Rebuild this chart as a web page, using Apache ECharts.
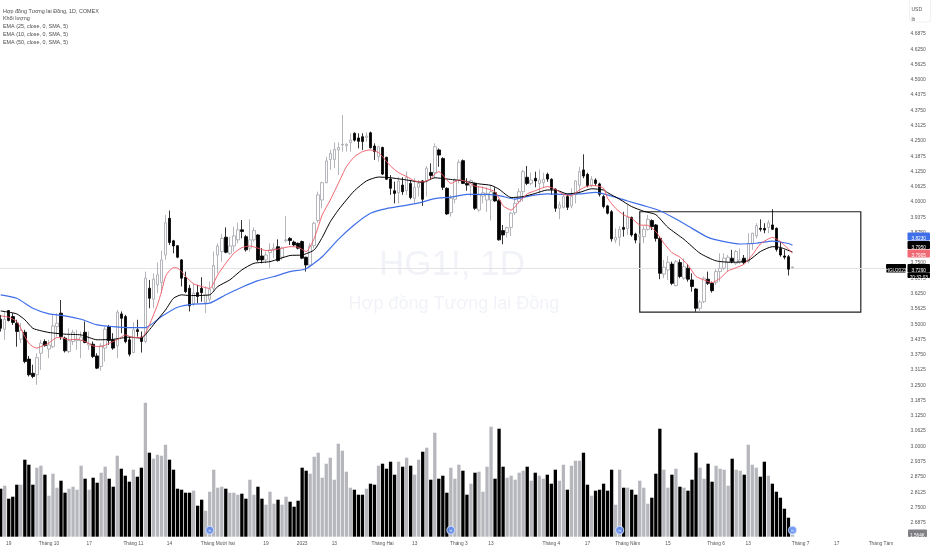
<!DOCTYPE html>
<html><head><meta charset="utf-8">
<style>html,body{margin:0;padding:0;background:#fff}#c{width:932px;height:550px}</style>
<script src="https://cdn.jsdelivr.net/npm/echarts@6/dist/echarts.min.js"></script>
</head><body><div id="c"></div>
<script>
// u = closed up (hollow), d = closed down (black)
const direction = "dudddudddu"+"uduuudduuu"+"ududduuddu"+"dddudduduu"+"uuddddddud"+"duuuuuduuu"+"dduudduuud"+"uuddddduuu"+"uuuuuuuudd"+"dudduddddu"+"duduududud"+"dduuuddudu"+"uuuddduuuu"+"ududuudddu"+"uduuuddudd"+"ddduududdu"+"uuddduudud"+"uddduudduu"+"uuduuduuud"+"dudddddu";
const highs = [3.538,3.552,3.558,3.545,3.518,3.504,3.477,3.370,3.334,3.381,
3.436,3.438,3.436,3.538,3.545,3.599,3.449,3.483,3.477,3.477,
3.470,3.511,3.470,3.429,3.381,3.422,3.490,3.497,3.463,3.558,
3.552,3.538,3.449,3.507,3.518,3.470,3.715,3.681,3.708,3.752,
3.801,3.947,3.965,3.845,3.824,3.766,3.715,3.661,3.667,3.661,
3.692,3.654,3.674,3.797,3.831,3.868,3.896,3.858,3.899,3.915,
3.926,3.865,3.929,3.896,3.868,3.811,3.797,3.831,3.831,3.847,
3.817,3.943,3.856,3.842,3.834,3.842,3.776,3.831,3.919,4.042,
4.083,4.185,4.213,4.243,4.243,4.356,4.240,4.281,4.285,4.281,
4.281,4.285,4.288,4.240,4.230,4.226,4.185,4.110,4.083,4.103,
4.101,4.124,4.090,4.097,4.090,4.090,4.147,4.158,4.240,4.219,
4.183,4.060,4.029,4.097,4.174,4.174,4.097,4.093,4.079,4.063,
4.063,4.060,4.069,4.060,4.011,3.906,3.899,3.960,4.015,4.056,
4.131,4.147,4.120,4.124,4.133,4.120,4.120,4.097,4.056,4.001,
4.029,4.029,4.056,4.090,4.144,4.195,4.120,4.106,4.097,4.079,
4.029,3.988,3.967,3.892,3.902,3.960,3.988,3.940,3.874,3.872,
3.902,3.947,3.929,3.910,3.858,3.763,3.779,3.756,3.763,3.765,
3.770,3.746,3.708,3.647,3.599,3.695,3.715,3.674,3.725,3.790,
3.790,3.783,3.804,3.804,3.810,3.783,3.872,3.874,3.913,3.929,
3.913,3.926,3.970,3.896,3.838,3.804,3.783,3.735];
const bodyHighs = [3.520,3.520,3.556,3.531,3.504,3.474,3.467,3.357,3.299,3.363,
3.422,3.429,3.415,3.493,3.504,3.545,3.443,3.432,3.467,3.438,
3.447,3.467,3.422,3.418,3.370,3.413,3.479,3.490,3.436,3.549,
3.542,3.531,3.436,3.477,3.477,3.447,3.688,3.647,3.684,3.702,
3.763,3.915,3.933,3.841,3.821,3.763,3.692,3.647,3.627,3.629,
3.647,3.620,3.643,3.740,3.820,3.851,3.856,3.820,3.861,3.886,
3.886,3.858,3.845,3.883,3.865,3.779,3.783,3.804,3.811,3.817,
3.811,3.845,3.851,3.836,3.831,3.838,3.774,3.820,3.913,4.029,
4.079,4.168,4.199,4.215,4.223,4.236,4.236,4.253,4.281,4.262,
4.267,4.270,4.283,4.229,4.226,4.223,4.183,4.094,4.046,4.086,
4.069,4.101,4.076,4.060,4.076,4.086,4.138,4.121,4.226,4.213,
4.178,4.056,4.015,4.090,4.162,4.169,4.076,4.087,4.076,4.029,
4.038,4.035,4.042,4.038,4.005,3.883,3.895,3.954,3.994,4.042,
4.124,4.101,4.090,4.097,4.090,4.093,4.113,4.093,4.052,3.988,
4.022,4.022,4.024,4.086,4.124,4.131,4.113,4.093,4.090,4.074,
4.022,3.984,3.960,3.855,3.888,3.896,3.937,3.937,3.869,3.865,
3.888,3.929,3.924,3.906,3.851,3.733,3.753,3.746,3.756,3.752,
3.735,3.729,3.681,3.644,3.590,3.688,3.684,3.667,3.715,3.729,
3.770,3.774,3.770,3.797,3.763,3.770,3.831,3.872,3.903,3.892,
3.892,3.915,3.906,3.892,3.810,3.779,3.776,3.734];
const bodyLows = [3.483,3.479,3.515,3.507,3.470,3.438,3.347,3.293,3.286,3.293,
3.381,3.413,3.398,3.408,3.490,3.449,3.391,3.388,3.429,3.433,
3.433,3.425,3.415,3.368,3.320,3.327,3.402,3.433,3.402,3.411,
3.524,3.429,3.377,3.384,3.470,3.429,3.429,3.606,3.602,3.661,
3.670,3.783,3.834,3.820,3.774,3.688,3.633,3.575,3.583,3.613,
3.629,3.588,3.602,3.647,3.783,3.797,3.794,3.790,3.820,3.845,
3.879,3.804,3.811,3.845,3.763,3.763,3.763,3.793,3.804,3.760,
3.774,3.842,3.842,3.824,3.811,3.770,3.742,3.742,3.821,3.924,
4.008,4.079,4.174,4.174,4.213,4.233,4.230,4.243,4.253,4.248,
4.247,4.264,4.222,4.206,4.185,4.114,4.093,4.056,4.035,4.038,
4.042,4.046,4.018,4.015,4.060,4.011,4.083,4.108,4.120,4.192,
4.060,3.951,3.956,4.011,4.090,4.076,4.069,4.065,3.974,3.967,
4.024,4.008,4.008,4.004,3.845,3.865,3.875,3.896,3.956,4.001,
4.042,4.076,4.076,4.086,4.076,4.079,4.094,4.052,3.974,3.974,
3.978,3.978,3.984,4.029,4.069,4.106,4.067,4.069,4.076,4.031,
3.981,3.954,3.849,3.844,3.855,3.888,3.892,3.865,3.844,3.858,
3.858,3.888,3.899,3.851,3.708,3.705,3.722,3.667,3.658,3.695,
3.688,3.684,3.654,3.565,3.565,3.592,3.667,3.637,3.670,3.715,
3.729,3.752,3.756,3.749,3.753,3.752,3.756,3.828,3.861,3.888,
3.885,3.896,3.888,3.806,3.783,3.774,3.725,3.731];
const lows = [3.470,3.436,3.511,3.497,3.408,3.422,3.340,3.286,3.279,3.252,
3.313,3.408,3.361,3.402,3.449,3.436,3.384,3.381,3.415,3.395,
3.361,3.422,3.395,3.361,3.316,3.310,3.347,3.415,3.395,3.361,
3.463,3.422,3.368,3.381,3.449,3.384,3.422,3.565,3.565,3.627,
3.627,3.763,3.824,3.790,3.770,3.654,3.627,3.552,3.575,3.586,
3.592,3.545,3.592,3.637,3.708,3.756,3.790,3.783,3.797,3.831,
3.851,3.797,3.797,3.838,3.756,3.749,3.749,3.729,3.770,3.756,
3.763,3.834,3.824,3.820,3.806,3.766,3.715,3.736,3.810,3.915,
3.974,4.076,4.131,4.138,4.110,4.206,4.206,4.206,4.247,4.219,
4.213,4.247,4.219,4.172,4.165,4.110,4.090,4.029,3.994,3.994,
4.029,4.029,4.011,3.994,4.022,3.984,4.022,4.090,4.097,4.144,
4.049,3.947,3.940,3.994,4.076,4.073,4.046,4.022,3.967,3.960,
3.994,3.960,3.924,4.001,3.842,3.827,3.855,3.861,3.947,3.994,
4.001,4.069,4.069,4.060,4.035,4.060,4.083,4.029,3.960,3.930,
3.974,3.967,3.974,3.994,4.035,4.097,4.060,4.060,4.065,4.022,
3.974,3.949,3.838,3.831,3.820,3.858,3.865,3.858,3.831,3.831,
3.831,3.883,3.885,3.838,3.684,3.688,3.681,3.660,3.654,3.688,
3.681,3.674,3.633,3.551,3.551,3.586,3.660,3.629,3.660,3.674,
3.722,3.715,3.749,3.742,3.746,3.746,3.749,3.804,3.851,3.879,
3.872,3.872,3.885,3.797,3.776,3.765,3.699,3.729];
const volumes = [48,51,38,40,52,52,77,72,52,69,71,62,41,63,49,56,44,48,50,47,71,58,47,59,54,64,70,58,50,81,68,61,55,67,60,69,134,84,78,82,81,92,77,67,48,47,44,44,46,31,37,26,45,67,49,50,48,44,44,42,43,38,57,42,50,38,32,45,33,37,32,40,35,30,36,69,66,63,80,84,59,73,79,57,93,86,65,49,47,42,42,48,53,52,71,73,68,75,62,75,70,79,71,62,77,85,89,57,104,58,61,44,69,58,72,66,42,53,64,65,45,70,110,58,108,70,59,61,57,64,66,70,56,64,61,58,62,53,67,56,72,47,71,76,76,84,52,41,46,47,53,46,67,32,67,49,49,47,42,56,49,33,39,63,108,67,49,62,68,50,49,46,57,84,69,58,73,55,71,68,67,51,78,67,66,62,92,72,69,60,75,61,53,45,39,28,19,1.6];
// EMA readings as [bar index, price]
const ema50 = [[0,3.620],[4,3.606],[8,3.565],[12,3.542],[16,3.534],[20,3.520],[24,3.497],[28,3.490],[32,3.486],[36,3.486],[40,3.531],[44,3.569],[48,3.582],[52,3.586],[56,3.620],[60,3.651],[64,3.678],[68,3.695],[72,3.715],[76,3.727],[80,3.776],[84,3.847],[88,3.907],[92,3.954],[96,3.973],[100,3.984],[104,3.996],[108,4.014],[112,4.020],[116,4.031],[120,4.031],[124,4.026],[128,4.012],[132,4.026],[136,4.033],[140,4.031],[144,4.033],[148,4.039],[152,4.024],[156,4.004],[160,3.985],[164,3.964],[168,3.930],[172,3.892],[176,3.855],[180,3.838],[184,3.828],[188,3.831],[192,3.840],[196,3.830],[197,3.823]];
const ema25 = [[0,3.554],[2,3.549],[4,3.542],[6,3.518],[8,3.483],[10,3.473],[12,3.466],[16,3.459],[20,3.456],[24,3.436],[28,3.438],[32,3.447],[35,3.443],[37,3.477],[39,3.518],[41,3.558],[43,3.606],[45,3.620],[47,3.617],[52,3.620],[54,3.654],[57,3.681],[60,3.722],[63,3.749],[67,3.756],[72,3.781],[75,3.783],[78,3.804],[80,3.855],[82,3.919],[84,3.967],[86,4.008],[88,4.046],[91,4.086],[94,4.102],[97,4.099],[101,4.090],[105,4.080],[108,4.099],[111,4.094],[115,4.086],[119,4.074],[122,4.068],[124,4.052],[127,4.018],[130,4.022],[133,4.035],[136,4.049],[138,4.049],[141,4.033],[144,4.039],[147,4.054],[150,4.049],[151,4.038],[154,4.011],[157,3.981],[160,3.962],[163,3.948],[166,3.896],[170,3.847],[174,3.790],[178,3.759],[182,3.753],[186,3.760],[189,3.797],[192,3.817],[194,3.814],[197,3.795]];
const ema10 = [[0,3.534],[2,3.528],[4,3.511],[5,3.483],[6,3.449],[7,3.422],[8,3.408],[9,3.402],[10,3.408],[12,3.422],[13,3.436],[14,3.445],[15,3.445],[17,3.436],[19,3.438],[21,3.429],[23,3.411],[25,3.408],[27,3.422],[29,3.436],[31,3.456],[33,3.445],[35,3.445],[36,3.463],[37,3.497],[39,3.579],[40,3.633],[41,3.695],[42,3.719],[43,3.731],[44,3.729],[45,3.715],[46,3.695],[48,3.665],[50,3.654],[52,3.646],[54,3.702],[56,3.749],[58,3.790],[60,3.813],[62,3.820],[64,3.811],[66,3.801],[68,3.804],[70,3.811],[72,3.817],[74,3.815],[76,3.797],[78,3.851],[80,3.947],[82,4.008],[84,4.076],[86,4.144],[88,4.185],[90,4.206],[92,4.213],[94,4.202],[95,4.185],[97,4.147],[99,4.120],[101,4.104],[103,4.086],[105,4.082],[107,4.094],[108,4.114],[109,4.124],[111,4.090],[112,4.076],[114,4.090],[116,4.083],[118,4.065],[120,4.059],[122,4.049],[123,4.042],[124,4.015],[125,3.984],[127,3.967],[129,4.001],[131,4.033],[133,4.046],[136,4.063],[138,4.052],[140,4.031],[142,4.026],[144,4.049],[146,4.065],[148,4.067],[150,4.056],[151,4.015],[153,3.974],[155,3.947],[157,3.933],[159,3.906],[161,3.904],[163,3.879],[165,3.831],[167,3.793],[169,3.774],[171,3.742],[173,3.695],[175,3.681],[177,3.670],[179,3.688],[181,3.718],[183,3.731],[185,3.746],[187,3.783],[189,3.828],[191,3.849],[192,3.855],[194,3.838],[197,3.791]];
const xTicks = [[2,"19"],[12,"Tháng 10"],[22,"17"],[33,"Tháng 11"],[42,"14"],[54,"Tháng Mười hai"],[66,"19"],[75,"2023"],[83,"13"],[95,"Tháng Hai"],[103,"13"],[114,"Tháng 3"],[122,"13"],[137,"Tháng 4"],[146,"17"],[156,"Tháng Năm"],[166,"15"],[178,"Tháng 6"],[186,"13"],[199,"Tháng 7"],[208,"17"],[219,"Tháng Tám"]];
const barSlots = 225;
const legendLines = ["Hợp đồng Tương lai Đồng, 1D, COMEX","Khối lượng","EMA (25, close, 0, SMA, 5)","EMA (10, close, 0, SMA, 5)","EMA (50, close, 0, SMA, 5)"];
const lastClose = 3.729;
const boxRange = {fromBar:159,toBar:214,top:3.960,bottom:3.549};
const eventMarks = [52,112,154,197];

const categories = Array.from({length:barSlots},()=> "");
xTicks.forEach(([i,t])=>categories[i]=t);
const UP="#b6b7bc", DOWN="#000000";
const candleData = highs.map((h,i)=> direction[i]==="u"
  ? [bodyLows[i],bodyHighs[i],lows[i],h]
  : [bodyHighs[i],bodyLows[i],lows[i],h]);
const volData = volumes.map((v,i)=>({value:v,itemStyle:{color:direction[i]==="u"?UP:DOWN}}));

const FF='"Liberation Sans",Arial,sans-serif';
const txt=(x,y,t,size,fill,extra)=>Object.assign({type:"text",x,y,z:100,silent:true,style:{text:t,fill,font:`${size}px ${FF}`,textBaseline:"middle",textAlign:"left"}},extra||{});
const tag=(x,y,w,h,bg,t,fill)=>[
  {type:"rect",z:99,silent:true,shape:{x,y,width:w,height:h,r:1},style:{fill:bg}},
  {type:"text",z:100,silent:true,x:x+w/2,y:y+h/2,style:{text:t,fill,font:`4.7px ${FF}`,textAlign:"center",textBaseline:"middle"}}
];
const graphics=[
  {type:"text",z:1,silent:true,x:452,y:248,style:{text:"HG1!, 1D",fill:"#f1f3f8",font:`35px ${FF}`,textAlign:"center",textBaseline:"middle"}},
  {type:"text",z:1,silent:true,x:454,y:295,style:{text:"Hợp đồng Tương lai Đồng",fill:"#f1f3f8",font:`18px ${FF}`,textAlign:"center",textBaseline:"middle"}},
  ...legendLines.map((t,i)=>txt(3,8.6+i*7.85,t,5.4,"#4a4a4f")),
  {type:"rect",z:99,silent:true,shape:{x:909.5,y:-3,width:21,height:25,r:2},style:{fill:"#fff",stroke:"#eceef2",lineWidth:.8}},
  txt(911.5,7.5,"USD",5,"#555"),
  txt(911.5,17,"lb",5,"#555"),
  ...tag(907.5,232.5,22.5,8,"#3f6fe8","3.8230","#fff"),
  ...tag(907.5,241,22.5,8,"#000","3.7950","#fff"),
  ...tag(907.5,249.5,22.5,8,"#ef6a75","3.7905","#fff"),
  ...tag(886,264,20,8.5,"#000","HGU2023","#fff"),
  ...tag(907.5,264,22.5,8.5,"#000","3.7290","#fff"),
  ...tag(907.5,272.5,22.5,5.5,"#000","20:32:03","#fff"),
  ...tag(908,529.5,19,7.5,"#7f7f84","1.564K","#fff")
];

const chart=echarts.init(document.getElementById("c"),null,{renderer:"canvas"});
chart.setOption({
  animation:false,backgroundColor:"#fff",
  grid:{left:-1.3,right:29,top:3.4,bottom:12,containLabel:false,outerBoundsMode:"none"},
  xAxis:{type:"category",data:categories,boundaryGap:true,axisLine:{show:false},axisTick:{show:false},splitLine:{show:false},
    axisLabel:{interval:0,color:"#555",fontSize:4.8,fontFamily:"Liberation Sans",margin:3}},
  yAxis:[
    {type:"value",position:"right",min:2.625,max:4.8125,interval:0.0625,axisLine:{show:false},axisTick:{show:false},splitLine:{show:false},
     axisLabel:{showMinLabel:false,color:"#555",fontSize:5,fontFamily:"Liberation Sans",margin:7.5,formatter:v=>v.toFixed(4)}},
    {type:"value",show:false,min:-1.3,max:533.3,splitLine:{show:false}}
  ],
  tooltip:{show:false},
  series:[
    {type:"bar",name:"Khối lượng",yAxisIndex:1,data:volData,barWidth:3.3,z:2,silent:true},
    {type:"candlestick",name:"HG1!",data:candleData,barWidth:3,z:3,silent:true,
     itemStyle:{color:"#ffffff",color0:DOWN,borderColor:"#a2a3a9",borderColor0:DOWN,borderWidth:.8},
     markLine:{silent:true,symbol:"none",label:{show:false},lineStyle:{color:"#e3e3e5",width:1.2,type:"solid"},data:[{yAxis:lastClose}],z:1},
     markArea:{silent:true,itemStyle:{color:"rgba(0,0,0,0)",borderColor:"#222",borderWidth:1.2},
       data:[[{xAxis:boxRange.fromBar,yAxis:boxRange.top},{xAxis:boxRange.toBar,yAxis:boxRange.bottom}]]}},
    {type:"line",name:"EMA 50",data:ema50,showSymbol:false,smooth:.2,z:4,silent:true,lineStyle:{color:"#3f6fe8",width:1.2}},
    {type:"line",name:"EMA 25",data:ema25,showSymbol:false,smooth:.2,z:5,silent:true,lineStyle:{color:"#000",width:1}},
    {type:"line",name:"EMA 10",data:ema10,showSymbol:false,smooth:.2,z:6,silent:true,lineStyle:{color:"#ef5360",width:.9}},
    {type:"scatter",name:"events",yAxisIndex:1,data:eventMarks.map(i=>[i,6.5]),symbolSize:8,z:20,silent:true,
     itemStyle:{color:"#4f7ff0",borderColor:"#d5e0fa",borderWidth:1.2},
     label:{show:true,position:"inside",formatter:"»",color:"#fff",fontSize:6}}
  ],
  graphic:graphics
});
</script></body></html>
